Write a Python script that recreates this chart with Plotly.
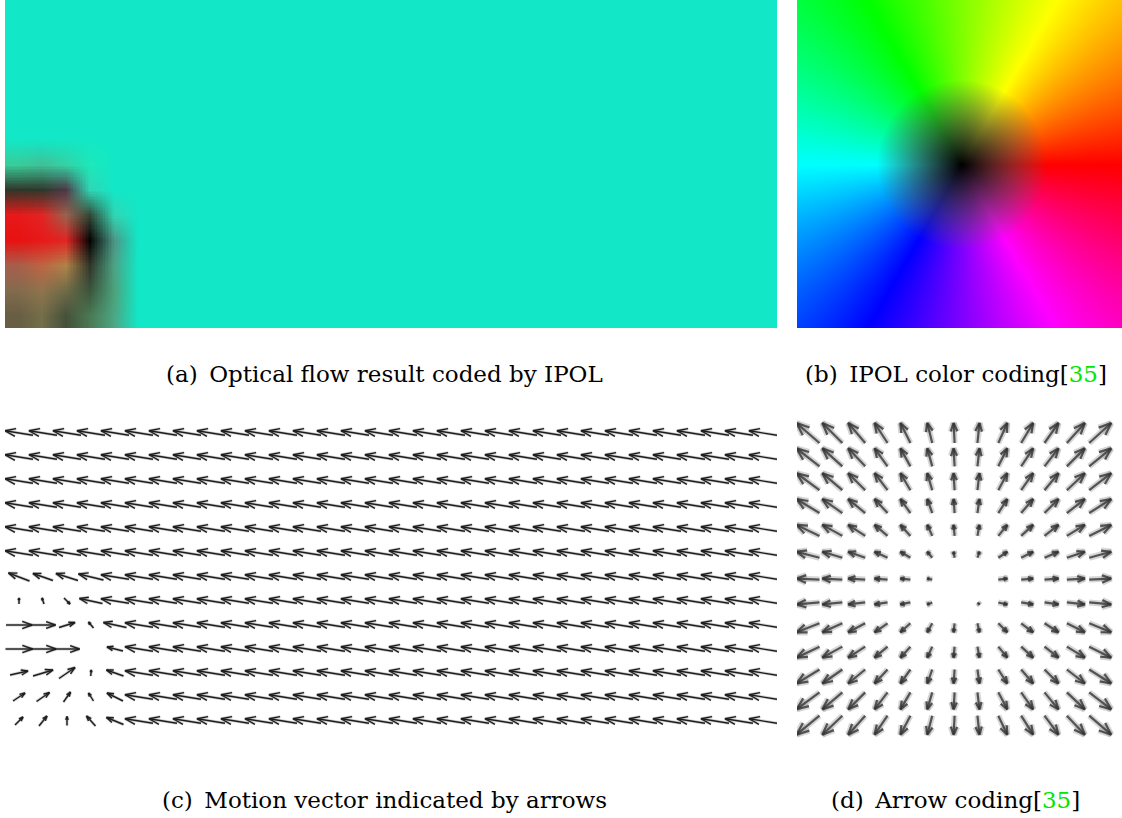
import base64
import colorsys
import math
import struct
import zlib

import numpy as np
import plotly.graph_objects as go

# ------------------------------------------------------------------ data
# Optical-flow field shown in (a) and (c): 13 rows x 32 columns of motion
# vectors, in pixels (dx to the right, dy upward).
N_ROWS_C = 13
N_COLS_C = 32
bulk_dx = -28.0          # almost everywhere: motion to the left, slightly up
bulk_dy = 4.5
# lower-left corner (object moving right), rows 6..12, columns 0..4
patch_rows = [6, 7, 8, 9, 10, 11, 12]
patch_cols = [0, 1, 2, 3, 4]
patch_dx = [
    [-21, -20, -22, -25, -28],
    [0, -2, 6, -23, -28],
    [26, 25, 16, -5, -23],
    [27, 26, 25, 0.5, -16],
    [18, 20, 16, 0.5, -17],
    [12, 13, 7, -5, -16],
    [8, 8, 0, -9, -17],
]
patch_dy = [
    [8, 7, 7, 6, 4.5],
    [6, 6, -6, 5, 4.5],
    [0, 0, 5, 6, 5],
    [0, 0, 0, 0, 4],
    [4, 6, 11, 6, 6],
    [8, 9, 10, 8, 8],
    [8, 10, 9, 10, 7],
]

# Arrow coding (d): 13 x 13 arrows, horizontal part per column,
# vertical part (upward) per row, in pixels
d_dx_by_col = [-23, -20, -17, -13, -10, -5, -1, 2, 9, 12, 14, 18, 22]
d_dy_by_row = [20, 18, 17, 14, 11, 6, 1, -2, -9, -11, -14, -17, -19]

captions = [
    "(a)\u2002Optical flow result coded by IPOL",
    "(b)\u2002IPOL color coding",
    "(c)\u2002Motion vector indicated by arrows",
    "(d)\u2002Arrow coding",
]
cite_number = "35"
cite_on = [False, True, False, True]

# ------------------------------------------------------------------ layout constants
W, H = 1122, 818
A_BOX = (5, 777, 0, 328)        # x0, x1, y0, y1 in page pixels
B_BOX = (797, 1122, 0, 328)
C_BOX = (5, 777, 421, 737)
D_BOX = (797, 1122, 420, 740)
C_CELL, C_COL0, C_ROW0 = 24.0, 19.0, 433.0
D_CELL, D_COL0, D_ROW0 = 24.35, 808.0, 433.0
SAT_RADIUS_A = 28.0
SAT_RADIUS_B = 85.0


def dom_x(box):
    return [box[0] / W, box[1] / W]


def dom_y(box):
    return [1 - box[3] / H, 1 - box[2] / H]


def png_uri(rgb):
    rgb = np.ascontiguousarray(np.clip(rgb, 0, 255).astype(np.uint8))
    h, w, _ = rgb.shape
    raw = b"".join(b"\x00" + rgb[i].tobytes() for i in range(h))

    def chunk(tag, data):
        c = struct.pack(">I", len(data)) + tag + data
        return c + struct.pack(">I", zlib.crc32(tag + data) & 0xFFFFFFFF)

    png = (b"\x89PNG\r\n\x1a\n"
           + chunk(b"IHDR", struct.pack(">IIBBBBB", w, h, 8, 2, 0, 0, 0))
           + chunk(b"IDAT", zlib.compress(raw, 9))
           + chunk(b"IEND", b""))
    return "data:image/png;base64," + base64.b64encode(png).decode()


def hsv255(dx, dy, sat, val):
    hue = (math.degrees(math.atan2(dy, dx)) % 360.0) / 360.0
    r, g, b = colorsys.hsv_to_rgb(hue, sat, val)
    return [r * 255, g * 255, b * 255]


# full flow field
U = np.full((N_ROWS_C, N_COLS_C), bulk_dx)
V = np.full((N_ROWS_C, N_COLS_C), bulk_dy)
for i, r in enumerate(patch_rows):
    for j, c in enumerate(patch_cols):
        U[r, c] = patch_dx[i][j]
        V[r, c] = patch_dy[i][j]

fig = go.Figure()

# ------------------------------------------------------------------ (a) colour-coded flow
img_a = np.zeros((N_ROWS_C, N_COLS_C, 3))
for r in range(N_ROWS_C):
    for c in range(N_COLS_C):
        f = min(1.0, math.hypot(U[r, c], V[r, c]) / SAT_RADIUS_A)
        img_a[r, c] = hsv255(U[r, c], V[r, c], min(0.92, 0.2 + 0.8 * f * f), min(0.91, f))
wa, ha = A_BOX[1] - A_BOX[0], A_BOX[3] - A_BOX[2]
fig.add_trace(go.Image(source=png_uri(img_a), x0=wa / N_COLS_C / 2, y0=ha / N_ROWS_C / 2,
                       dx=wa / N_COLS_C, dy=ha / N_ROWS_C, zsmooth="fast",
                       xaxis="x", yaxis="y", hoverinfo="skip"))

# ------------------------------------------------------------------ (b) colour wheel
wb, hb = B_BOX[1] - B_BOX[0], B_BOX[3] - B_BOX[2]
cxb, cyb = 165.0, 165.0
img_b = np.zeros((hb, wb, 3))
for yy in range(hb):
    for xx in range(wb):
        ddx = xx + 0.5 - cxb
        ddy = cyb - (yy + 0.5)
        f = min(1.0, math.hypot(ddx, ddy) / SAT_RADIUS_B)
        img_b[yy, xx] = hsv255(ddx, ddy, 0.45 + 0.55 * f, f)
fig.add_trace(go.Image(source=png_uri(img_b), x0=0.5, y0=0.5, dx=1, dy=1,
                       xaxis="x2", yaxis="y2", hoverinfo="skip"))


# ------------------------------------------------------------------ arrows
def arrows(cols, rows, dxs, dys, cell, head_frac, head_deg, min_len=0.0):
    xs, ys = [], []
    a = math.radians(head_deg)
    for cx, cy, dx, dy in zip(cols, rows, dxs, dys):
        dx_u, dy_u = dx / cell, -dy / cell          # y axis points down
        L = math.hypot(dx_u, dy_u)
        if L * cell < min_len:
            continue
        tx, ty = cx - dx_u / 2, cy - dy_u / 2
        hx, hy = cx + dx_u / 2, cy + dy_u / 2
        ux, uy = dx_u / L, dy_u / L
        h = head_frac * L
        b1x = hx - h * (ux * math.cos(a) - uy * math.sin(a))
        b1y = hy - h * (uy * math.cos(a) + ux * math.sin(a))
        b2x = hx - h * (ux * math.cos(a) + uy * math.sin(a))
        b2y = hy - h * (uy * math.cos(a) - ux * math.sin(a))
        xs += [tx, hx, None, b1x, hx, b2x, None]
        ys += [ty, hy, None, b1y, hy, b2y, None]
    return xs, ys


cc, rr = np.meshgrid(np.arange(N_COLS_C), np.arange(N_ROWS_C))
xs, ys = arrows(cc.ravel(), rr.ravel(), U.ravel(), V.ravel(), C_CELL, 0.4, 20, 0.8)
fig.add_trace(go.Scatter(x=xs, y=ys, mode="lines", xaxis="x3", yaxis="y3",
                         line=dict(color="rgba(140,140,140,0.4)", width=3),
                         hoverinfo="skip", showlegend=False))
fig.add_trace(go.Scatter(x=xs, y=ys, mode="lines", xaxis="x3", yaxis="y3",
                         line=dict(color="#1e1e1e", width=1.4),
                         hoverinfo="skip", showlegend=False))

nd = len(d_dx_by_col)
dc, dr = np.meshgrid(np.arange(nd), np.arange(len(d_dy_by_row)))
ddx = [d_dx_by_col[c] for c in dc.ravel()]
ddy = [d_dy_by_row[r] for r in dr.ravel()]
xs, ys = arrows(dc.ravel(), dr.ravel(), ddx, ddy, D_CELL, 0.45, 22, 2.5)
fig.add_trace(go.Scatter(x=xs, y=ys, mode="lines", xaxis="x4", yaxis="y4",
                         line=dict(color="rgba(120,120,120,0.3)", width=6),
                         hoverinfo="skip", showlegend=False))
fig.add_trace(go.Scatter(x=xs, y=ys, mode="lines", xaxis="x4", yaxis="y4",
                         line=dict(color="rgba(50,50,50,0.8)", width=2.2),
                         hoverinfo="skip", showlegend=False))

# ------------------------------------------------------------------ axes
hid = dict(visible=False, showgrid=False, zeroline=False, fixedrange=True)
fig.update_layout(
    xaxis=dict(domain=dom_x(A_BOX), range=[0, wa], **hid),
    yaxis=dict(domain=dom_y(A_BOX), range=[ha, 0], anchor="x", scaleanchor=False, **hid),
    xaxis2=dict(domain=dom_x(B_BOX), range=[0, wb], anchor="y2", **hid),
    yaxis2=dict(domain=dom_y(B_BOX), range=[hb, 0], anchor="x2", scaleanchor=False, **hid),
    xaxis3=dict(domain=dom_x(C_BOX), anchor="y3",
                range=[(C_BOX[0] - C_COL0) / C_CELL, (C_BOX[1] - C_COL0) / C_CELL], **hid),
    yaxis3=dict(domain=dom_y(C_BOX), anchor="x3",
                range=[(C_BOX[3] - C_ROW0) / C_CELL, (C_BOX[2] - C_ROW0) / C_CELL], **hid),
    xaxis4=dict(domain=dom_x(D_BOX), anchor="y4",
                range=[(D_BOX[0] - D_COL0) / D_CELL, (D_BOX[1] - D_COL0) / D_CELL], **hid),
    yaxis4=dict(domain=dom_y(D_BOX), anchor="x4",
                range=[(D_BOX[3] - D_ROW0) / D_CELL, (D_BOX[2] - D_ROW0) / D_CELL], **hid),
)

# ------------------------------------------------------------------ captions
cap_pos = [(384, 374), (956, 374), (384, 800), (955, 800)]
for text, cite, (px, py) in zip(captions, cite_on, cap_pos):
    if cite:
        text = text + "[<span style='color:#00e600'>" + cite_number + "</span>]"
    fig.add_annotation(x=px / W, y=1 - py / H, xref="paper", yref="paper",
                       text=text, showarrow=False, xanchor="center", yanchor="middle",
                       font=dict(family="DejaVu Serif", size=23, color="black"))

fig.update_layout(width=W, height=H, margin=dict(l=0, r=0, t=0, b=0),
                  paper_bgcolor="white", plot_bgcolor="white", showlegend=False)
fig.write_html("out.html")
